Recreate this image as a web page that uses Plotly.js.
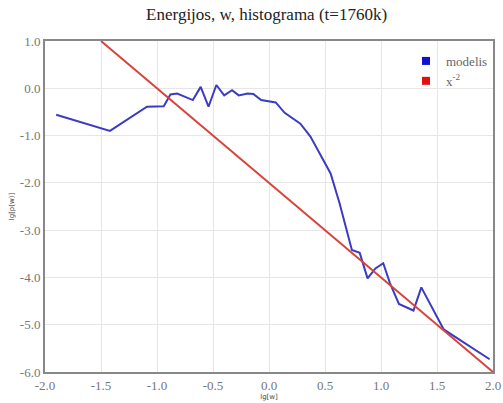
<!DOCTYPE html>
<html><head><meta charset="utf-8">
<script src="https://cdn.plot.ly/plotly-3.0.1.min.js"></script>
<style>body{margin:0;background:#fff}#c{width:503px;height:403px}</style>
</head><body><div id="c"></div>
<script>
var modelX = [-1.90,-1.42,-1.09,-0.94,-0.88,-0.82,-0.77,-0.68,-0.61,-0.54,-0.47,-0.40,-0.33,-0.27,-0.19,-0.14,-0.07,0.01,0.06,0.14,0.28,0.37,0.47,0.55,0.63,0.74,0.81,0.88,0.95,1.02,1.08,1.16,1.29,1.36,1.56,1.97];
var modelY = [-0.56,-0.90,-0.39,-0.38,-0.13,-0.11,-0.16,-0.25,0.03,-0.39,0.07,-0.15,-0.04,-0.15,-0.11,-0.12,-0.25,-0.29,-0.30,-0.52,-0.75,-1.02,-1.45,-1.80,-2.43,-3.42,-3.48,-4.02,-3.81,-3.70,-4.12,-4.56,-4.70,-4.21,-5.10,-5.73];
var powX = [-1.5, 2.0];
var powY = [1.0, -6.0];
var xTickVals = [-2,-1.5,-1,-0.5,0,0.5,1,1.5,2];
var xTickText = ["-2.0","-1.5","-1.0","-0.5","0.0","0.5","1.0","1.5","2.0"];
var yTickVals = [1,0,-1,-2,-3,-4,-5,-6];
var yTickText = ["1.0","0.0","-1.0","-2.0","-3.0","-4.0","-5.0","-6.0"];

var serif = "Liberation Serif, Times New Roman, serif";
var traces = [
  {x: modelX, y: modelY, mode: 'lines', line: {color: '#3b3bc4', width: 2}, showlegend: false, hoverinfo: 'skip'},
  {x: powX, y: powY, mode: 'lines', line: {color: '#d8433c', width: 2}, showlegend: false, hoverinfo: 'skip'},
  {x: [null], y: [null], mode: 'markers', name: 'modelis', marker: {symbol: 'square', color: '#1010d0', size: 8}},
  {x: [null], y: [null], mode: 'markers', name: 'x<sup>-2</sup>', marker: {symbol: 'square', color: '#e01010', size: 8}}
];
var layout = {
  width: 503, height: 403,
  margin: {l: 45, r: 10, t: 41, b: 31},
  paper_bgcolor: '#fff', plot_bgcolor: '#fff',
  title: {text: 'Energijos, w, histograma (t=1760k)', font: {family: serif, size: 17, color: '#222'}, x: 0.53, xanchor: 'center', y: 0.965, yanchor: 'middle'},
  xaxis: {range: [-2, 2], tickvals: xTickVals, ticktext: xTickText, showgrid: true, gridcolor: '#e6e6e6', zeroline: false,
          showline: true, linecolor: '#888', linewidth: 2, mirror: true, ticks: '',
          tickfont: {family: serif, size: 13, color: '#777'},
          title: {text: 'lg[w]', font: {family: 'DejaVu Sans', size: 7, color: '#444'}, standoff: 2}},
  yaxis: {range: [-6, 1], tickvals: yTickVals, ticktext: yTickText, showgrid: true, gridcolor: '#e6e6e6', zeroline: false,
          showline: true, linecolor: '#888', linewidth: 2, mirror: true, ticks: '',
          tickfont: {family: serif, size: 13, color: '#777'},
          title: {text: 'lg[p(w)]', font: {family: 'DejaVu Sans', size: 7, color: '#444'}, standoff: 4}},
  legend: {x: 1.0, y: 0.985, xanchor: 'right', yanchor: 'top', bgcolor: 'rgba(255,255,255,0)',
           font: {family: serif, size: 13, color: '#666'}, itemwidth: 30, tracegroupgap: 0},
  showlegend: true
};
Plotly.newPlot('c', traces, layout, {displayModeBar: false, staticPlot: true});
</script></body></html>
